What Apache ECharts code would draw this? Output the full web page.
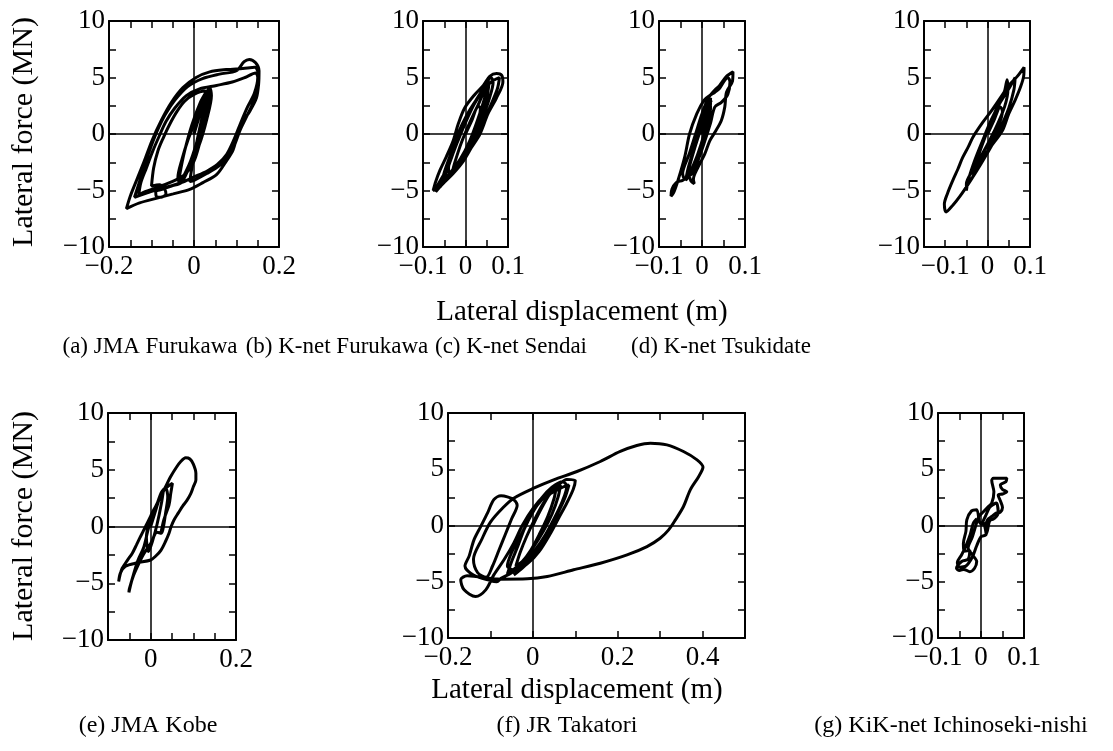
<!DOCTYPE html>
<html>
<head>
<meta charset="utf-8">
<script src="https://cdn.jsdelivr.net/npm/echarts@6/dist/echarts.min.js"></script>
<style>
  html, body { margin: 0; padding: 0; background: #fff; }
  #chart { width: 1113px; height: 751px; }
</style>
</head>
<body>
<div id="chart"></div>
<script>
// lateral displacement (m), lateral force (MN)
var loopA = [
  [0.000, 0.0], [0.012, 1.5], [0.022, 2.8], [0.033, 3.9], [0.036, 3.6], [0.028, 1.8], [0.015, -0.3],
  [0.000, -2.0], [-0.018, -3.4], [-0.035, -4.2], [-0.038, -3.9], [-0.028, -2.2], [-0.014, -0.5],
  [0.002, 1.0], [0.020, 2.8], [0.037, 4.1], [0.041, 3.4], [0.030, 1.3], [0.012, -1.0], [-0.012, -3.0],
  [-0.030, -4.3], [-0.053, -4.6], [-0.075, -4.9], [-0.090, -5.1], [-0.089, -5.5], [-0.077, -5.6],
  [-0.066, -5.3], [-0.069, -4.9], [-0.081, -4.5], [-0.100, -4.6], [-0.095, -3.0], [-0.085, -1.5],
  [-0.073, -0.4], [-0.058, 0.8], [-0.040, 2.0], [-0.022, 2.9], [0.000, 3.5], [0.025, 3.8], [0.037, 3.5],
  [0.035, 2.5], [0.028, 1.0], [0.015, -0.6], [0.000, -2.4], [-0.022, -3.6], [-0.050, -4.2],
  [-0.085, -4.7], [-0.115, -5.1], [-0.130, -5.4], [-0.125, -4.3], [-0.112, -3.0], [-0.098, -1.6],
  [-0.082, -0.2], [-0.066, 1.1], [-0.045, 2.3], [-0.018, 3.4], [0.013, 4.0], [0.053, 4.3], [0.090, 4.6],
  [0.120, 5.0], [0.145, 5.4], [0.150, 5.0], [0.142, 3.6], [0.126, 2.4], [0.110, 1.0], [0.094, -0.5],
  [0.077, -1.8], [0.055, -2.7], [0.030, -3.3], [0.000, -3.8], [-0.030, -4.3], [-0.073, -4.8],
  [-0.110, -5.2], [-0.140, -5.6], [-0.128, -4.2], [-0.115, -2.6], [-0.100, -1.0], [-0.085, 0.4],
  [-0.068, 1.7], [-0.045, 3.0], [-0.015, 4.2], [0.020, 4.9], [0.060, 5.3], [0.100, 5.6], [0.118, 6.4],
  [0.130, 6.6], [0.145, 6.3], [0.153, 5.6], [0.152, 4.4], [0.147, 3.2], [0.131, 2.0], [0.115, 1.1],
  [0.103, 0.0], [0.092, -1.4], [0.076, -2.4], [0.053, -3.6], [0.021, -4.3], [-0.010, -4.9],
  [-0.049, -5.3], [-0.089, -5.7], [-0.128, -6.1], [-0.159, -6.6], [-0.150, -5.5], [-0.133, -3.9],
  [-0.117, -2.4], [-0.099, -0.6], [-0.077, 1.2], [-0.053, 2.8], [-0.026, 4.1], [0.005, 5.0],
  [0.037, 5.5], [0.076, 5.7], [0.115, 5.8], [0.143, 5.9], [0.152, 5.2], [0.148, 4.0], [0.137, 2.6],
  [0.122, 1.4], [0.108, 0.3], [0.095, -1.0], [0.080, -2.0], [0.060, -2.8], [0.030, -3.5],
  [0.000, -4.1], [-0.010, -4.2], [-0.005, -3.0], [0.005, -1.0], [0.015, 0.8], [0.030, 3.2],
  [0.038, 4.0], [0.034, 3.0], [0.022, 0.8], [0.005, -1.6], [-0.020, -3.6], [-0.036, -4.4],
  [-0.033, -3.5], [-0.022, -1.5], [-0.005, 0.8], [0.015, 2.8], [0.030, 3.8], [0.027, 2.5],
  [0.012, 0.0], [-0.008, -2.4], [-0.028, -4.0]
];
var loopB = [
  [0.000, 0.0], [0.015, 1.2], [0.030, 2.5], [0.035, 2.2], [0.020, 0.3], [0.000, -1.5], [-0.020, -2.8],
  [-0.030, -3.2], [-0.025, -2.5], [-0.010, -0.8], [0.010, 1.0], [0.030, 2.6], [0.045, 3.6], [0.050, 3.4],
  [0.035, 1.4], [0.015, -0.6], [-0.010, -2.3], [-0.035, -3.6], [-0.050, -4.2], [-0.045, -3.4],
  [-0.030, -1.8], [-0.015, -0.3], [0.005, 1.6], [0.025, 3.0], [0.045, 4.2], [0.060, 5.0], [0.065, 4.6],
  [0.055, 3.0], [0.040, 1.4], [0.025, 0.0], [0.005, -1.6], [-0.020, -3.0], [-0.045, -4.1],
  [-0.065, -4.8], [-0.076, -5.0], [-0.070, -4.2], [-0.060, -3.2], [-0.045, -2.0], [-0.029, -0.6],
  [-0.017, 0.9], [-0.002, 2.3], [0.022, 3.5], [0.042, 4.3], [0.057, 5.1], [0.073, 5.35], [0.085, 5.2],
  [0.088, 4.6], [0.073, 3.2], [0.053, 1.8], [0.034, 0.0], [0.014, -1.2], [-0.005, -2.4], [-0.029, -3.5],
  [-0.053, -4.4], [-0.070, -5.1], [-0.065, -4.5], [-0.050, -3.5], [-0.035, -2.2], [-0.020, -0.8],
  [0.000, 1.0], [0.020, 2.6], [0.040, 3.8], [0.060, 4.6], [0.080, 5.0], [0.075, 4.0], [0.060, 2.6],
  [0.040, 0.9], [0.020, -0.6], [0.000, -2.0], [-0.020, -3.0], [-0.035, -3.6], [-0.040, -3.0],
  [-0.025, -1.2], [-0.005, 0.8], [0.015, 2.4], [0.035, 3.5], [0.050, 4.2], [0.045, 3.2], [0.028, 1.2],
  [0.010, -0.6], [-0.012, -2.2], [-0.035, -3.4], [-0.055, -4.3], [-0.050, -3.4], [-0.035, -1.8],
  [-0.018, 0.0], [0.002, 1.6], [0.025, 3.0], [0.045, 4.0], [0.055, 4.4], [0.050, 3.2], [0.035, 1.6],
  [0.018, 0.0], [-0.002, -1.6], [-0.025, -3.0], [-0.045, -4.0], [-0.060, -4.7], [-0.055, -4.0],
  [-0.040, -2.6]
];
var loopC = [
  [0.000, 0.0], [0.010, 1.5], [0.020, 2.8], [0.018, 2.0], [0.005, 0.0], [-0.010, -1.8], [-0.025, -3.2],
  [-0.035, -4.0], [-0.030, -3.0], [-0.015, -1.0], [0.000, 0.8], [0.012, 2.4], [0.020, 3.2], [0.018, 2.3],
  [0.010, 0.5], [-0.005, -1.5], [-0.020, -3.0], [-0.040, -4.0], [-0.045, -3.5], [-0.030, -1.8],
  [-0.015, 0.0], [0.000, 1.8], [0.015, 3.2], [0.030, 3.9], [0.041, 4.3], [0.057, 5.1], [0.072, 5.5],
  [0.071, 4.7], [0.057, 3.7], [0.053, 2.4], [0.045, 1.2], [0.030, 0.15], [0.018, -0.6], [0.006, -1.8],
  [-0.010, -3.0], [-0.020, -4.0], [-0.018, -4.4], [-0.025, -4.2], [-0.030, -3.8], [-0.045, -4.1],
  [-0.060, -4.3], [-0.070, -4.9], [-0.072, -5.5], [-0.066, -5.2], [-0.055, -4.0], [-0.040, -2.0],
  [-0.029, 0.0], [-0.012, 1.8], [0.005, 3.0], [0.018, 3.4], [0.030, 3.7], [0.040, 4.0], [0.050, 4.6],
  [0.060, 5.0], [0.065, 4.6], [0.060, 3.5], [0.045, 2.8], [0.030, 2.4], [0.020, 1.0], [0.005, -0.8],
  [-0.010, -2.4], [-0.025, -3.6], [-0.030, -3.2], [-0.020, -1.6], [-0.008, 0.2], [0.005, 1.8],
  [0.015, 2.8], [0.020, 2.4], [0.012, 0.6], [0.000, -1.2], [-0.012, -2.6], [-0.028, -3.6],
  [-0.038, -4.1], [-0.032, -3.0], [-0.018, -1.2], [-0.004, 0.6], [0.010, 2.2], [0.022, 3.0]
];
var loopD = [
  [0.000, 0.0], [0.015, 1.2], [0.030, 2.4], [0.035, 2.0], [0.020, 0.2], [0.000, -1.5], [-0.020, -2.8],
  [-0.035, -3.6], [-0.030, -2.8], [-0.015, -1.2], [0.005, 0.8], [0.025, 2.6], [0.040, 3.8], [0.046, 4.8],
  [0.048, 4.0], [0.040, 2.4], [0.015, 0.2], [-0.010, -1.6], [-0.035, -3.2], [-0.050, -4.4], [-0.050, -5.0],
  [-0.045, -4.0], [-0.030, -2.3], [-0.012, -0.6], [0.008, 1.2], [0.030, 2.8], [0.050, 4.0], [0.065, 5.0],
  [0.062, 3.9], [0.050, 2.3], [0.030, 0.5], [0.010, -1.0], [-0.015, -2.6], [-0.040, -4.1], [-0.065, -5.5],
  [-0.082, -6.3], [-0.098, -6.9], [-0.102, -6.2], [-0.095, -5.3], [-0.082, -4.1], [-0.070, -3.1],
  [-0.059, -2.1], [-0.045, -1.1], [-0.035, -0.3], [-0.012, 1.0], [0.008, 2.0], [0.030, 3.2], [0.050, 4.3],
  [0.070, 5.1], [0.086, 5.9], [0.085, 5.1], [0.078, 4.2], [0.065, 3.0], [0.050, 1.8], [0.035, 0.3],
  [0.012, -0.9], [-0.010, -2.0], [-0.030, -3.0], [-0.040, -3.5]
];
var loopE = [
  [0.000, 0.0], [0.010, 1.2], [0.020, 2.4], [0.030, 3.2], [0.025, 2.0], [0.015, 0.2], [0.005, -1.2],
  [-0.005, -2.2], [-0.010, -1.0], [0.000, 0.9], [0.012, 1.8], [0.024, 2.65], [0.035, 3.5], [0.047, 4.4],
  [0.060, 5.2], [0.071, 5.75], [0.082, 6.05], [0.092, 5.95], [0.100, 5.5], [0.106, 4.7], [0.106, 4.1],
  [0.100, 3.5], [0.094, 2.9], [0.085, 2.3], [0.075, 1.8], [0.065, 1.2], [0.055, 0.6], [0.048, 0.0],
  [0.043, -0.6], [0.035, -1.3], [0.024, -2.1], [0.012, -2.6], [0.000, -2.95], [-0.031, -3.2],
  [-0.059, -3.5], [-0.071, -4.1], [-0.075, -4.85], [-0.072, -4.3], [-0.067, -3.7], [-0.055, -3.0],
  [-0.043, -2.35], [-0.033, -1.6], [-0.024, -0.9], [-0.012, 0.0], [0.000, 0.9], [0.015, 2.0],
  [0.025, 3.0], [0.035, 3.4], [0.040, 2.6], [0.035, 1.2], [0.030, 0.0], [0.025, -0.6], [0.015, -0.5],
  [0.000, -1.5], [-0.016, -2.4], [-0.027, -3.2], [-0.040, -4.3], [-0.050, -5.5], [-0.051, -5.8],
  [-0.046, -5.0], [-0.040, -4.2], [-0.030, -3.0], [-0.016, -1.8], [-0.004, 0.0], [0.012, 1.5],
  [0.024, 2.9], [0.039, 3.5], [0.051, 3.8], [0.047, 2.9], [0.043, 1.9], [0.031, 0.6], [0.024, -0.6]
];
var loopF = [
  [0.000, 0.0], [0.020, 1.5], [0.040, 2.8], [0.055, 3.4], [0.050, 2.4], [0.035, 0.8], [0.015, -0.8],
  [-0.005, -2.2], [-0.025, -3.2], [-0.040, -3.6], [-0.030, -2.4], [-0.015, -1.0], [0.005, 0.6],
  [0.025, 2.0], [0.045, 3.0], [0.065, 3.6], [0.060, 2.6], [0.045, 1.0], [0.025, -0.5], [0.000, -2.0],
  [-0.020, -3.0], [-0.045, -3.9], [-0.060, -4.3], [-0.050, -3.2], [-0.035, -1.8], [-0.020, -0.3],
  [0.000, 1.2], [0.020, 2.4], [0.045, 3.4], [0.070, 3.9], [0.080, 3.5], [0.070, 2.2], [0.050, 0.6],
  [0.030, -0.8], [0.005, -2.2], [-0.020, -3.3], [-0.050, -4.2], [-0.075, -4.7], [-0.085, -5.0],
  [-0.100, -4.9], [-0.140, -4.4], [-0.160, -3.6], [-0.150, -2.7], [-0.139, -1.3], [-0.123, -0.1],
  [-0.107, 1.1], [-0.092, 2.3], [-0.075, 2.65], [-0.060, 2.55], [-0.045, 2.3], [-0.037, 1.8],
  [-0.050, 0.6], [-0.065, -0.8], [-0.080, -2.2], [-0.095, -3.6], [-0.110, -4.6], [-0.130, -4.2],
  [-0.140, -3.0], [-0.120, -1.2], [-0.100, 0.3], [-0.070, 1.6], [-0.045, 2.43], [0.002, 3.32],
  [0.049, 4.06], [0.104, 4.8], [0.159, 5.69], [0.206, 6.58], [0.245, 7.11], [0.277, 7.32], [0.316, 7.17],
  [0.355, 6.58], [0.387, 5.84], [0.401, 5.19], [0.391, 4.36], [0.371, 3.17], [0.355, 1.69], [0.336, 0.5],
  [0.320, -0.39], [0.300, -1.13], [0.269, -1.87], [0.222, -2.61], [0.159, -3.35], [0.096, -3.94],
  [0.034, -4.53], [-0.013, -4.74], [-0.076, -4.77], [-0.155, -4.47], [-0.170, -4.83], [-0.162, -5.72],
  [-0.135, -6.31], [-0.111, -5.72], [-0.092, -4.39], [-0.068, -3.05], [-0.045, -1.57], [-0.025, 0.0],
  [0.000, 1.5], [0.030, 2.8], [0.060, 3.6], [0.080, 4.1], [0.100, 4.0], [0.095, 3.2], [0.080, 2.0],
  [0.060, 0.6], [0.040, -0.8], [0.015, -2.3], [-0.010, -3.3], [-0.040, -4.0], [-0.060, -3.6],
  [-0.050, -2.4], [-0.030, -1.0], [-0.010, 0.5], [0.010, 1.8], [0.030, 2.6], [0.050, 3.0],
  [0.070, 3.4], [0.085, 3.6], [0.075, 2.4], [0.055, 0.8], [0.030, -1.0], [0.005, -2.6],
  [-0.025, -3.8], [-0.045, -4.4]
];
var loopG = [
  [0.000, 0.0], [0.010, 0.8], [0.020, 1.6], [0.030, 1.9], [0.036, 2.0], [0.040, 1.1], [0.030, 0.6],
  [0.020, 0.4], [0.013, -0.7], [0.005, 0.3], [-0.002, 0.2], [-0.010, 1.4], [-0.022, 1.3], [-0.033, 0.5],
  [-0.035, -0.5], [-0.041, -1.6], [-0.040, -2.3], [-0.026, -2.2], [-0.030, -3.0], [-0.045, -3.2],
  [-0.057, -3.8], [-0.050, -4.0], [-0.040, -3.9], [-0.026, -4.1], [-0.015, -3.8], [-0.010, -3.2],
  [-0.020, -2.6], [-0.030, -2.0], [-0.020, -1.0], [-0.012, 0.0], [-0.005, 0.8], [0.005, 1.2],
  [0.015, 1.6], [0.025, 2.0], [0.030, 3.0], [0.025, 4.0], [0.029, 4.2], [0.045, 4.2], [0.060, 4.2],
  [0.058, 3.9], [0.045, 3.6], [0.050, 3.2], [0.060, 3.0], [0.050, 2.8], [0.040, 2.7], [0.045, 2.2],
  [0.050, 1.6], [0.045, 1.2], [0.035, 1.1], [0.025, 0.8], [0.015, 0.5], [0.010, -0.2], [0.012, -0.8],
  [0.000, -1.0], [-0.010, -1.8], [-0.020, -2.8], [-0.035, -3.6], [-0.050, -3.7], [-0.055, -3.3],
  [-0.045, -2.6], [-0.035, -1.8], [-0.025, -0.8], [-0.018, 0.2], [-0.010, 0.6]
];

var captions = ['(a) JMA Furukawa', '(b) K-net Furukawa', '(c) K-net Sendai', '(d) K-net Tsukidate',
  '(e) JMA Kobe', '(f) JR Takatori', '(g) KiK-net Ichinoseki-nishi'];
var xTitle = 'Lateral displacement (m)';
var yTitle = 'Lateral force (MN)';

var panels = [
  { box: [109, 21, 170, 226], x: [-0.2, 0.2, 0.05, 0.2], data: loopA },
  { box: [423, 21, 85, 226], x: [-0.1, 0.1, 0.05, 0.1], data: loopB },
  { box: [659, 21, 86, 226], x: [-0.1, 0.1, 0.05, 0.1], data: loopC },
  { box: [924, 21, 106, 226], x: [-0.15, 0.1, 0.05, 0.1], data: loopD },
  { box: [108, 413, 128, 227], x: [-0.1, 0.2, 0.05, 0.2], data: loopE },
  { box: [448, 413, 297, 225], x: [-0.2, 0.5, 0.1, 0.2], data: loopF },
  { box: [938, 413, 86, 225], x: [-0.1, 0.1, 0.05, 0.1], data: loopG }
];

var FONT = 'Liberation Serif';

function tickText(step) {
  return function (v) {
    var k = v / step;
    if (Math.abs(k - Math.round(k)) > 1e-6) return '';
    var r = Math.round(v * 1000) / 1000;
    return r < 0 ? '\u2212' + (-r) : String(r);
  };
}

var chart = echarts.init(document.getElementById('chart'));
var grids = [], xAxes = [], yAxes = [], series = [];

panels.forEach(function (p, i) {
  grids.push({ left: p.box[0], top: p.box[1], width: p.box[2], height: p.box[3] });
  var line = { show: true, onZero: false, lineStyle: { color: '#000', width: 2 } };
  var tick = { show: true, inside: true, length: 7, lineStyle: { color: '#000', width: 1.5 } };
  var xBase = { type: 'value', gridIndex: i, min: p.x[0], max: p.x[1], interval: p.x[2],
    axisLine: line, axisTick: tick, splitLine: { show: false } };
  xAxes.push(Object.assign({}, xBase, { position: 'bottom',
    axisLabel: { show: true, margin: 6, color: '#000', fontFamily: FONT, fontSize: 27,
      showMinLabel: true, showMaxLabel: true, formatter: tickText(p.x[3]) } }));
  xAxes.push(Object.assign({}, xBase, { position: 'top', axisLabel: { show: false } }));
  var yBase = { type: 'value', gridIndex: i, min: -10, max: 10, interval: 2.5,
    axisLine: line, axisTick: tick, splitLine: { show: false } };
  yAxes.push(Object.assign({}, yBase, { position: 'left',
    axisLabel: { show: true, margin: 4, color: '#000', fontFamily: FONT, fontSize: 27,
      showMinLabel: true, showMaxLabel: true, formatter: tickText(5) } }));
  yAxes.push(Object.assign({}, yBase, { position: 'right', axisLabel: { show: false } }));
  series.push({
    type: 'line', xAxisIndex: i * 2, yAxisIndex: i * 2, data: p.data,
    showSymbol: false, smooth: 0.3, silent: true,
    lineStyle: { color: '#000', width: 3 },
    markLine: { silent: true, symbol: 'none', label: { show: false },
      lineStyle: { color: '#000', width: 1.5, type: 'solid' },
      data: [{ xAxis: 0 }, { yAxis: 0 }] }
  });
});

function label(text, x, y, size, rot) {
  return { type: 'text', x: x, y: y, rotation: rot || 0, silent: true,
    style: { text: text, fill: '#000', fontFamily: FONT, fontSize: size,
      align: 'center', verticalAlign: 'middle' } };
}

var graphics = [
  label(yTitle, 24, 132, 30, Math.PI / 2),
  label(yTitle, 24, 526, 30, Math.PI / 2),
  label(xTitle, 582, 312, 29),
  label(xTitle, 577, 690, 29),
  label(captions[0], 150, 347, 23),
  label(captions[1], 337, 347, 23),
  label(captions[2], 511, 347, 23),
  label(captions[3], 721, 347, 23),
  label(captions[4], 148, 726, 24),
  label(captions[5], 567, 726, 24),
  label(captions[6], 951, 726, 24)
];

chart.setOption({
  backgroundColor: '#fff',
  animation: false,
  grid: grids,
  xAxis: xAxes,
  yAxis: yAxes,
  series: series,
  graphic: graphics
});
</script>
</body>
</html>
